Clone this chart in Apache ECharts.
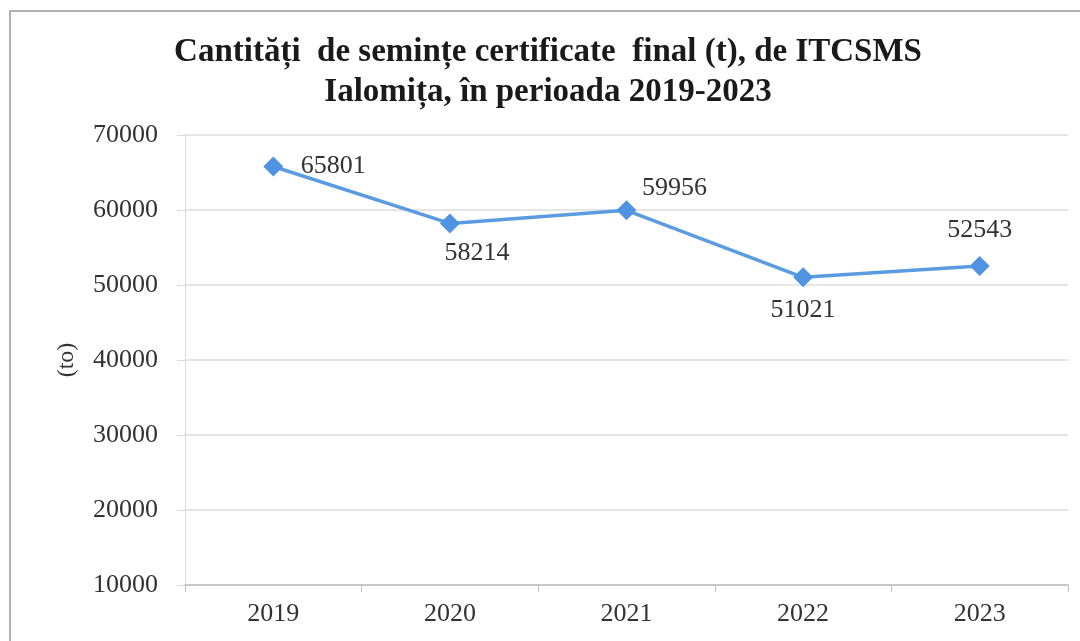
<!DOCTYPE html>
<html>
<head>
<meta charset="utf-8">
<script src="https://cdn.jsdelivr.net/npm/echarts@6/dist/echarts.min.js"></script>
<style>
  html, body { margin: 0; padding: 0; background: #fff; }
  #frame { position: absolute; left: 9px; top: 10px; width: 1200px; height: 800px; border: 2px solid #b0b0b0; }
  #chart { position: absolute; left: 0; top: 0; width: 1080px; height: 641px; }
</style>
</head>
<body>
<div id="frame"></div>
<div id="chart"></div>
<script>
// date
const years = ['2019', '2020', '2021', '2022', '2023'];
const cantitati = [65801, 58214, 59956, 51021, 52543];
const yTicks = [10000, 20000, 30000, 40000, 50000, 60000, 70000];

// pozitia etichetei pentru fiecare punct
const labelOffsets = [[60, 0], [27, 30], [48, -22], [0, 33], [0, -36]];

const serif = '"Liberation Serif", "Times New Roman", serif';

let myChart = echarts.init(document.getElementById('chart'), null, { renderer: 'canvas' });

const options = {
    backgroundColor: 'transparent',
    title: {
        text: 'Cantități  de semințe certificate  final (t), de ITCSMS\nIalomița, în perioada 2019-2023',
        left: 543,
        textAlign: 'center',
        top: 27,
        textStyle: {
            fontFamily: serif,
            fontWeight: 'bold',
            fontSize: 33,
            lineHeight: 40,
            color: '#1a1a1a'
        }
    },
    grid: { left: 185, right: 12, top: 135, bottom: 56 },
    xAxis: {
        type: 'category',
        data: years,
        boundaryGap: true,
        axisLine: { lineStyle: { color: '#bfbfbf', width: 1.5 } },
        axisTick: { show: true, length: 7, lineStyle: { color: '#bfbfbf' } },
        axisLabel: { fontFamily: serif, fontSize: 26, color: '#333', margin: 16 }
    },
    yAxis: {
        type: 'value',
        min: yTicks[0],
        max: yTicks[yTicks.length - 1],
        interval: 10000,
        name: '(to)',
        nameLocation: 'middle',
        nameGap: 106,
        nameRotate: 90,
        nameTextStyle: { fontFamily: serif, fontSize: 24, color: '#333' },
        axisLine: { show: true, lineStyle: { color: '#d9d9d9', width: 1 } },
        axisTick: { show: true, length: 8, lineStyle: { color: '#d9d9d9' } },
        axisLabel: {
            fontFamily: serif, fontSize: 26, color: '#333', margin: 27,
            formatter: v => String(v)
        },
        splitLine: { lineStyle: { color: '#dcdcdc', width: 1.5 } }
    },
    series: [
        {
            type: 'line',
            data: cantitati.map((v, i) => ({
                value: v,
                label: { offset: labelOffsets[i] }
            })),
            symbol: 'diamond',
            symbolSize: 20,
            itemStyle: { color: '#4f93e2' },
            lineStyle: { color: '#5b9bdf', width: 3.5 },
            label: {
                show: true,
                position: 'inside',
                fontFamily: serif,
                fontSize: 26,
                color: '#333'
            }
        }
    ]
};
myChart.setOption(options);
</script>
</body>
</html>
